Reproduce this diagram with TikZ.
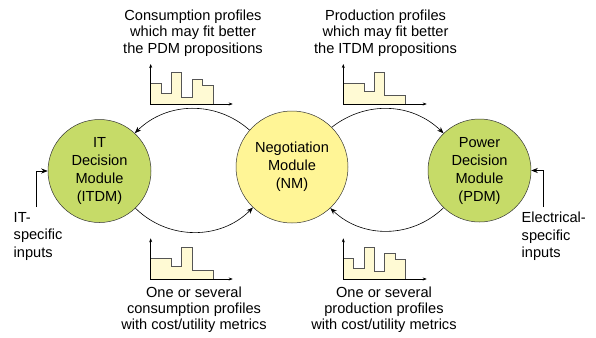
\documentclass[tikz,border=0pt]{standalone}
\usepackage{fontspec}
\setmainfont{Liberation Sans}
\usepackage{xcolor}
\definecolor{modgreen}{RGB}{198,219,104}
\definecolor{modyellow}{RGB}{255,245,150}
\definecolor{barfill}{RGB}{255,250,212}
\definecolor{bardraw}{RGB}{85,85,85}
\usepackage{tikz}
\usetikzlibrary{arrows.meta,positioning}

\begin{document}
\begin{tikzpicture}[x=1pt,y=1pt,
    module/.style={circle,draw=black!80,line width=0.5pt,inner sep=0pt,align=center,
        font=\fontsize{14.6}{18}\selectfont},
    caption/.style={align=center,inner sep=0pt,font=\fontsize{14.6}{16.3}\selectfont},
    inputtxt/.style={align=left,inner sep=0pt,anchor=north west,font=\fontsize{14.6}{17.5}\selectfont},
    flow/.style={-{Stealth[length=6.5pt,width=5pt]},line width=0.6pt},
    axis/.style={{Stealth[length=4pt,width=3pt]}-{Stealth[length=4pt,width=3pt]},line width=0.5pt},
    bar/.style={fill=barfill,draw=bardraw,line width=0.6pt}]
    \useasboundingbox (0,0) rectangle (596,-337);
    % Parameters
    \def\u{10.35}
    % Modules
    \node[module,fill=modgreen,minimum size=103pt] (itdm) at (99.5,-171) {IT\\Decision\\Module\\(ITDM)};
    \node[module,fill=modyellow,minimum size=112pt] (nm) at (292,-167) {Negotiation\\Module\\(NM)};
    \node[module,fill=modgreen,minimum size=103pt] (pdm) at (479.5,-170.5) {Power\\Decision\\Module\\(PDM)};
    % Exchanges
    \draw[flow] (nm.139) to[bend right=43] (itdm.47);
    \draw[flow] (nm.45) to[bend left=41] (pdm.134);
    \draw[flow] (itdm.-46) to[bend right=45] (nm.-134);
    \draw[flow] (pdm.-134) to[bend left=44] (nm.-47);
    % Inputs
    \coordinate (itin) at (36,-207);
    \coordinate (elin) at (543.3,-207);
    \draw[flow] (itin) |- (itdm.west);
    \draw[flow] (elin) |- (pdm.east);
    \node[inputtxt] (ittxt) at (13.5,-212) {IT-\\specific\\inputs};
    \node[inputtxt] (eltxt) at (521.5,-212) {Electrical-\\specific\\inputs};
    % Captions
    \node[caption] (constop) at (193,-33) {Consumption profiles\\which may fit better\\the PDM propositions};
    \node[caption] (prodtop) at (385.5,-33) {Production profiles\\which may fit better\\the ITDM propositions};
    \node[caption] (consbot) at (194,-309.7) {One or several\\consumption profiles\\with cost/utility metrics};
    \node[caption] (prodbot) at (384,-309.7) {One or several\\production profiles\\with cost/utility metrics};
    % Profiles
    \begin{scope}[shift={(150.7,-104)}]
        \draw[bar] (0,0) |- (\u,20.7) |- (2*\u,10.7) |- (3*\u,31.3) |- (4*\u,6.3) |- (5*\u,24.7) |- (6*\u,19) -- (6*\u,0) -- cycle;
        \draw[axis] (0,40) |- (82,0);
    \end{scope}
    \begin{scope}[shift={(343.3,-104)}]
        \draw[bar] (0,0) |- (2*\u,20.7) |- (3*\u,12.3) |- (4*\u,31.3) |- (6*\u,8.3) -- (6*\u,0) -- cycle;
        \draw[axis] (0,40) |- (83.4,0);
    \end{scope}
    \begin{scope}[shift={(150.7,-279)}]
        \draw[bar] (0,0) |- (2*\u,20.7) |- (3*\u,12.3) |- (4*\u,31.3) |- (6*\u,9) -- (6*\u,0) -- cycle;
        \draw[axis] (0,40.7) |- (82,0);
    \end{scope}
    \begin{scope}[shift={(343.3,-279)}]
        \draw[bar] (0,0) |- (\u,20.7) |- (2*\u,10.7) |- (3*\u,31.3) |- (4*\u,7.3) |- (5*\u,25.7) |- (6*\u,19.7) -- (6*\u,0) -- cycle;
        \draw[axis] (0,40.7) |- (83.4,0);
    \end{scope}
\end{tikzpicture}
\end{document}
